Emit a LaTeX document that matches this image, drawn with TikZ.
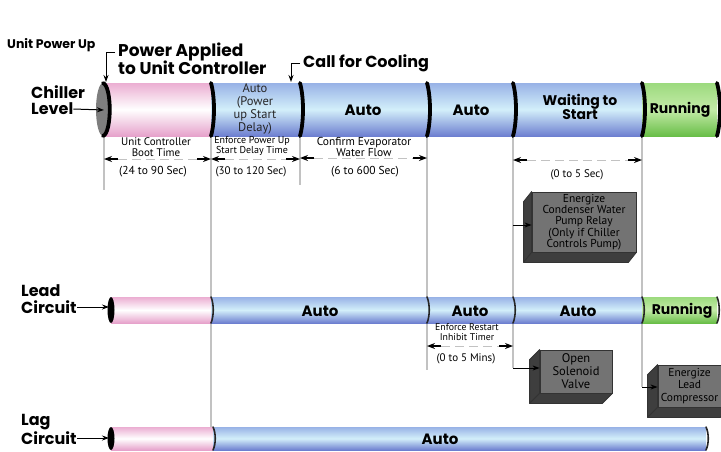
\documentclass[tikz,border=0pt]{standalone}
\usepackage{fontspec}
\setmainfont{PT Sans}
\newfontfamily\geo{Poppins}
\usetikzlibrary{arrows.meta,calc}
\definecolor{pinkT}{HTML}{EBAED2}
\definecolor{pinkB}{HTML}{E6A2CB}
\definecolor{blueT}{HTML}{98B2E6}
\definecolor{blueM}{HTML}{D3EFFA}
\definecolor{blueB}{HTML}{6D7FD0}
\definecolor{greenT}{HTML}{9CDA7E}
\definecolor{greenM}{HTML}{C4EBA8}
\definecolor{greenB}{HTML}{69BE48}
\definecolor{guideC}{HTML}{C2C2C2}
\definecolor{boxF}{HTML}{737373}
\definecolor{boxS}{HTML}{3E3E3E}
\definecolor{capG}{HTML}{7E7E7E}
\newcommand\dimarrow[3]{%
  \draw[draw=guideC, line width=0.9pt, dash pattern=on 9pt off 5pt] (#1+14,#3) -- (#2-14,#3);
  \draw[dimptr] (#1+14,#3) -- (#1,#3);
  \draw[dimptr] (#2-14,#3) -- (#2,#3);}
\begin{document}
\begin{tikzpicture}[x=1pt,y=-1pt,
  hd/.style={font=\geo\bfseries\fontsize{16}{16}\selectfont, inner sep=0pt, anchor=west},
  small/.style={font=\fontsize{11}{11.5}\selectfont, align=center, inner sep=0pt},
  tiny/.style={font=\fontsize{10}{10}\selectfont, align=center, inner sep=0pt},
  segtxt/.style={font=\geo\bfseries\fontsize{15}{14}\selectfont, align=center, inner sep=0pt},
  pinkseg/.style={top color=pinkT, bottom color=pinkB, middle color=white},
  blueseg/.style={top color=blueT, bottom color=blueB, middle color=blueM},
  greenseg/.style={top color=greenT, bottom color=greenB, middle color=greenM},
  guide/.style={draw=guideC, line width=2pt},
  rim/.style={line width=3.8pt, line cap=round, draw=black},
  thinrim/.style={line width=1.6pt, line cap=round, draw=black!85},
  ptr/.style={draw=black, line width=1pt, -{Stealth[length=7pt,width=5pt]}},
  dimptr/.style={draw=black, line width=1.3pt, -{Stealth[length=8pt,width=6pt]}},
  boxface/.style={fill=boxF, draw=black!80, line width=0.8pt, inner sep=0pt, align=center},
  boxside/.style={fill=boxS, draw=black!80, line width=0.8pt, line join=round},
]
\useasboundingbox (0,0) rectangle (721,451);
\fill[white] (0,0) rectangle (721,451);

% title
\node[hd, font=\geo\bfseries\fontsize{12.5}{12.5}\selectfont] (title) at (7,45) {Unit Power Up};

% guide lines
\draw[guide] (104,136) -- (104,190);
\draw[guide] (211,136) -- (211,440);
\draw[guide] (300,136) -- (300,185);
\draw[guide] (427,136) -- (427,370);
\draw[guide] (513,136) -- (513,368);
\draw[guide] (642,136) -- (642,387);
\coordinate (c1) at (513,225);
\coordinate (c2) at (513,368);
\coordinate (c3) at (642,387);

% chiller bar
\shade[pinkseg] (103,83) rectangle (211,136);
\shade[blueseg] (211,83) rectangle (300,136);
\shade[blueseg] (300,83) rectangle (427,136);
\shade[blueseg] (427,83) rectangle (513,136);
\shade[blueseg] (513,83) rectangle (642,136);
\shade[greenseg] (642,83) rectangle (717,136);
\foreach \xx in {211,300,427,513,642,717}
  \draw[rim] (\xx,83) .. controls +(4,14) and +(4,-14) .. (\xx,136);
\fill[capG] (103,109.5) ellipse [x radius=7, y radius=26.5];
\draw[rim] (103,83) .. controls +(9,3) and +(9,-3) .. (103,136);
\coordinate (capC) at (104,110);

% lead bar
\shade[pinkseg] (111,297) rectangle (211,323);
\shade[blueseg] (211,297) rectangle (427,323);
\shade[blueseg] (427,297) rectangle (513,323);
\shade[blueseg] (513,297) rectangle (642,323);
\shade[greenseg] (642,297) rectangle (717,323);
\foreach \xx in {211,427,513,642,717}
  \draw[thinrim] (\xx,297) .. controls +(3,7) and +(3,-7) .. (\xx,323);
\fill[black] (111,310) ellipse [x radius=3.5, y radius=13];
\coordinate (capL) at (109,307);

% lag bar
\shade[pinkseg] (111,427) rectangle (213,450);
\shade[blueseg] (213,427) rectangle (706,450);
\foreach \xx in {213,706}
  \draw[thinrim] (\xx,427) .. controls +(3,6) and +(3,-6) .. (\xx,450);
\fill[black] (111,438.5) ellipse [x radius=3.5, y radius=11.5];
\coordinate (capG) at (109,438);

% side labels
\node[hd] (chl1) at (31,92) {Chiller};
\node[hd] (chl2) at (31,109) {Level};
\draw[ptr] (chl2.east) -- (capC);
\node[hd] (ld1) at (21,291) {Lead};
\node[hd] (ld2) at (21,307) {Circuit};
\draw[ptr] (ld2.east) -- (capL);
\node[hd] (lg1) at (21,422) {Lag};
\node[hd] (lg2) at (21,438) {Circuit};
\draw[ptr] (lg2.east) -- (capG);

% callouts
\node[hd, font=\geo\bfseries\fontsize{17}{17}\selectfont] (pw1) at (118,52) {Power Applied};
\node[hd, font=\geo\bfseries\fontsize{17}{17}\selectfont] (pw2) at (118,68) {to Unit Controller};
\coordinate (pwT) at (106,82);
\draw[ptr] ([xshift=-3pt]pw1.west) -| (pwT);
\node[hd] (cfc) at (303,63) {Call for Cooling};
\coordinate (cfT) at (291,82);
\draw[ptr] ([xshift=-3pt]cfc.west) -| (cfT);

% chiller segment texts
\node[font=\fontsize{12.5}{12.8}\selectfont, align=center, inner sep=0pt, text=black!85] (s2) at (255,109) {Auto\\(Power\\up Start\\Delay)};
\node[segtxt] (s3) at (363,110) {Auto};
\node[segtxt] (s4) at (471,110) {Auto};
\node[segtxt, font=\geo\bfseries\fontsize{14}{13}\selectfont] (s5) at (580,107) {Waiting to\\Start};
\node[segtxt, font=\geo\bfseries\fontsize{14}{14}\selectfont] (s6) at (680,110) {Running};

% lead / lag texts
\node[segtxt] (l2) at (320,311) {Auto};
\node[segtxt] (l3) at (470,311) {Auto};
\node[segtxt] (l4) at (578,311) {Auto};
\node[segtxt, font=\geo\bfseries\fontsize{14}{14}\selectfont] (l5) at (682,311) {Running};
\node[segtxt] (g2) at (440,439) {Auto};

% timing annotations
\node[small] (t1) at (156,147) {Unit Controller\\Boot Time};
\dimarrow{104}{211}{159}
\node[small, font=\fontsize{11.5}{12}\selectfont] (t1b) at (153,172) {(24 to 90 Sec)};
\node[tiny] (t2) at (252,146) {Enforce Power Up\\Start Delay Time};
\dimarrow{211}{300}{159}
\node[small] (t2b) at (251,172) {(30 to 120 Sec)};
\node[small, font=\fontsize{11.5}{11}\selectfont] (t3) at (364,147) {Confirm Evaporator\\Water Flow};
\dimarrow{300}{427}{158}
\node[small, font=\fontsize{11.5}{12}\selectfont] (t3b) at (365,172) {(6 to 600 Sec)};
\dimarrow{513}{642}{160}
\node[small] (t4b) at (577,175) {(0 to 5 Sec)};
\node[tiny, font=\fontsize{9.8}{9.6}\selectfont] (t5) at (467,332) {Enforce Restart\\Inhibit Timer};
\dimarrow{427}{513}{346}
\node[small, font=\fontsize{11}{11}\selectfont] (t5b) at (466,359) {(0 to 5 Mins)};

% boxes
\node[boxface, font=\fontsize{11.5}{11.3}\selectfont, minimum width=104pt, minimum height=60pt] (b1) at (584,222) {Energize\\Condenser Water\\Pump Relay\\(Only if Chiller\\Controls Pump)};
\path[boxside] (b1.north west) -- (b1.south west) -- ($(b1.south west)+(-8,10)$) -- ($(b1.north west)+(-8,10)$) -- cycle;
\path[boxside] (b1.south west) -- (b1.south east) -- ($(b1.south east)+(-8,10)$) -- ($(b1.south west)+(-8,10)$) -- cycle;
\draw[ptr] (c1) -- (c1 -| b1.west);

\node[boxface, font=\fontsize{12.5}{13}\selectfont, minimum width=72pt, minimum height=43pt] (b2) at (576,371.5) {Open\\Solenoid\\Valve};
\path[boxside] (b2.north west) -- (b2.south west) -- ($(b2.south west)+(-10,10)$) -- ($(b2.north west)+(-10,10)$) -- cycle;
\path[boxside] (b2.south west) -- (b2.south east) -- ($(b2.south east)+(-10,10)$) -- ($(b2.south west)+(-10,10)$) -- cycle;
\draw[ptr] (c2) -- (c2 -| b2.west);

\node[boxface, minimum width=72pt, minimum height=42pt] (b3) at (694,386) {};
\path[boxside] (b3.north west) -- (b3.south west) -- ($(b3.south west)+(-10,10)$) -- ($(b3.north west)+(-10,10)$) -- cycle;
\path[boxside] (b3.south west) -- (b3.south east) -- ($(b3.south east)+(-10,10)$) -- ($(b3.south west)+(-10,10)$) -- cycle;
\node[font=\fontsize{11.5}{12.5}\selectfont, align=center, inner sep=0pt] (b3t) at (689.5,386) {Energize\\Lead\\Compressor};
\draw[ptr] (c3) -- (c3 -| b3.west);
\end{tikzpicture}
\end{document}
